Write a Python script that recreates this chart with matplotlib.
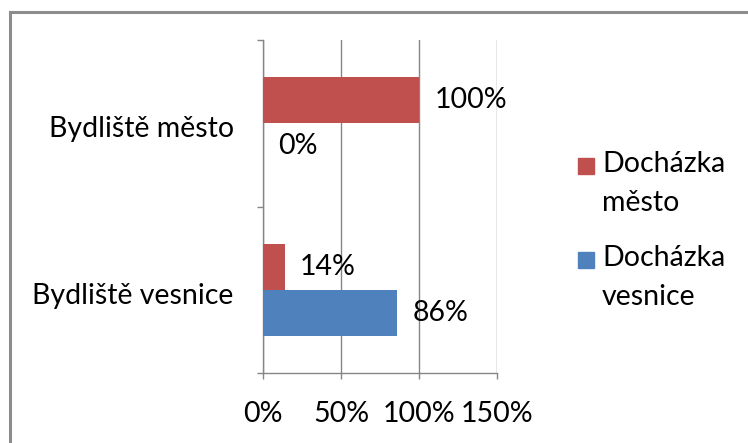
import numpy as np
import matplotlib.pyplot as plt
from matplotlib.patches import Rectangle

# data: share of attendance by place of residence
categories = ['Bydliště vesnice', 'Bydliště město']
series_names = ['Docházka město', 'Docházka vesnice']
legend_labels = ['Docházka\nměsto', 'Docházka\nvesnice']
dochazka_mesto = [14, 100]
dochazka_vesnice = [86, 0]
x_ticks = [0, 50, 100, 150]
x_tick_labels = ['0%', '50%', '100%', '150%']

red = '#C0504D'
blue = '#4F81BD'
grey = '#868686'

plt.rcParams['font.family'] = ['Lato', 'DejaVu Sans']
fs = 20.5

fig = plt.figure(figsize=(7.48, 4.43), dpi=100)
ax = fig.add_axes([263 / 748, 1 - 373 / 443, 234 / 748, 333 / 443])

# outer frame (top and left edges only)
fig.add_artist(plt.Line2D([10 / 748, 10 / 748], [0, 1 - 12 / 443], transform=fig.transFigure,
                          color='#8c8c8c', lw=2.2))
fig.add_artist(plt.Line2D([10 / 748, 1], [1 - 12 / 443, 1 - 12 / 443], transform=fig.transFigure,
                          color='#8c8c8c', lw=2.2))

y = np.arange(len(categories)) + 0.5
h = 0.2755
ax.barh(y + h / 2, dochazka_mesto, height=h, color=red, zorder=3)
ax.barh(y - h / 2, dochazka_vesnice, height=h, color=blue, zorder=3)

# value labels next to bar ends
for yy, v in zip(y + h / 2, dochazka_mesto):
    ax.annotate(f'{v}%', (v, yy), xytext=(11, 0), textcoords='offset points',
                va='center', ha='left', fontsize=fs, zorder=4)
for yy, v in zip(y - h / 2, dochazka_vesnice):
    ax.annotate(f'{v}%', (v, yy), xytext=(11, 0), textcoords='offset points',
                va='center', ha='left', fontsize=fs, zorder=4)

ax.set_xlim(0, 150)
ax.set_ylim(0, 2)
ax.set_xticks(x_ticks)
ax.set_xticklabels(x_tick_labels, fontsize=fs)
ax.set_yticks([0, 1, 2])
ax.set_yticklabels([])
ax.set_yticks(y - 0.02, minor=True)
ax.set_yticklabels(categories, minor=True, fontsize=fs)
ax.tick_params(axis='y', which='minor', length=0, pad=21)
ax.tick_params(axis='y', which='major', length=4, color=grey, width=1)
ax.tick_params(axis='x', length=4, color=grey, width=1, pad=16)
ax.grid(axis='x', color=grey, lw=1, zorder=0)

for s in ['top', 'right']:
    ax.spines[s].set_visible(False)
for s in ['left', 'bottom']:
    ax.spines[s].set_color(grey)
    ax.spines[s].set_linewidth(1)

# legend, drawn in figure pixels
for i, (lab, col) in enumerate(zip(legend_labels, [red, blue])):
    top = 158 + i * 94
    fig.add_artist(Rectangle((578 / 748, 1 - (top + 16) / 443), 16 / 748, 16 / 443,
                             transform=fig.transFigure, color=col))
    fig.text(602 / 748, 1 - (top - 7) / 443, lab, fontsize=fs, va='top', ha='left',
             linespacing=1.6)

fig.savefig('out.png', dpi=100)
